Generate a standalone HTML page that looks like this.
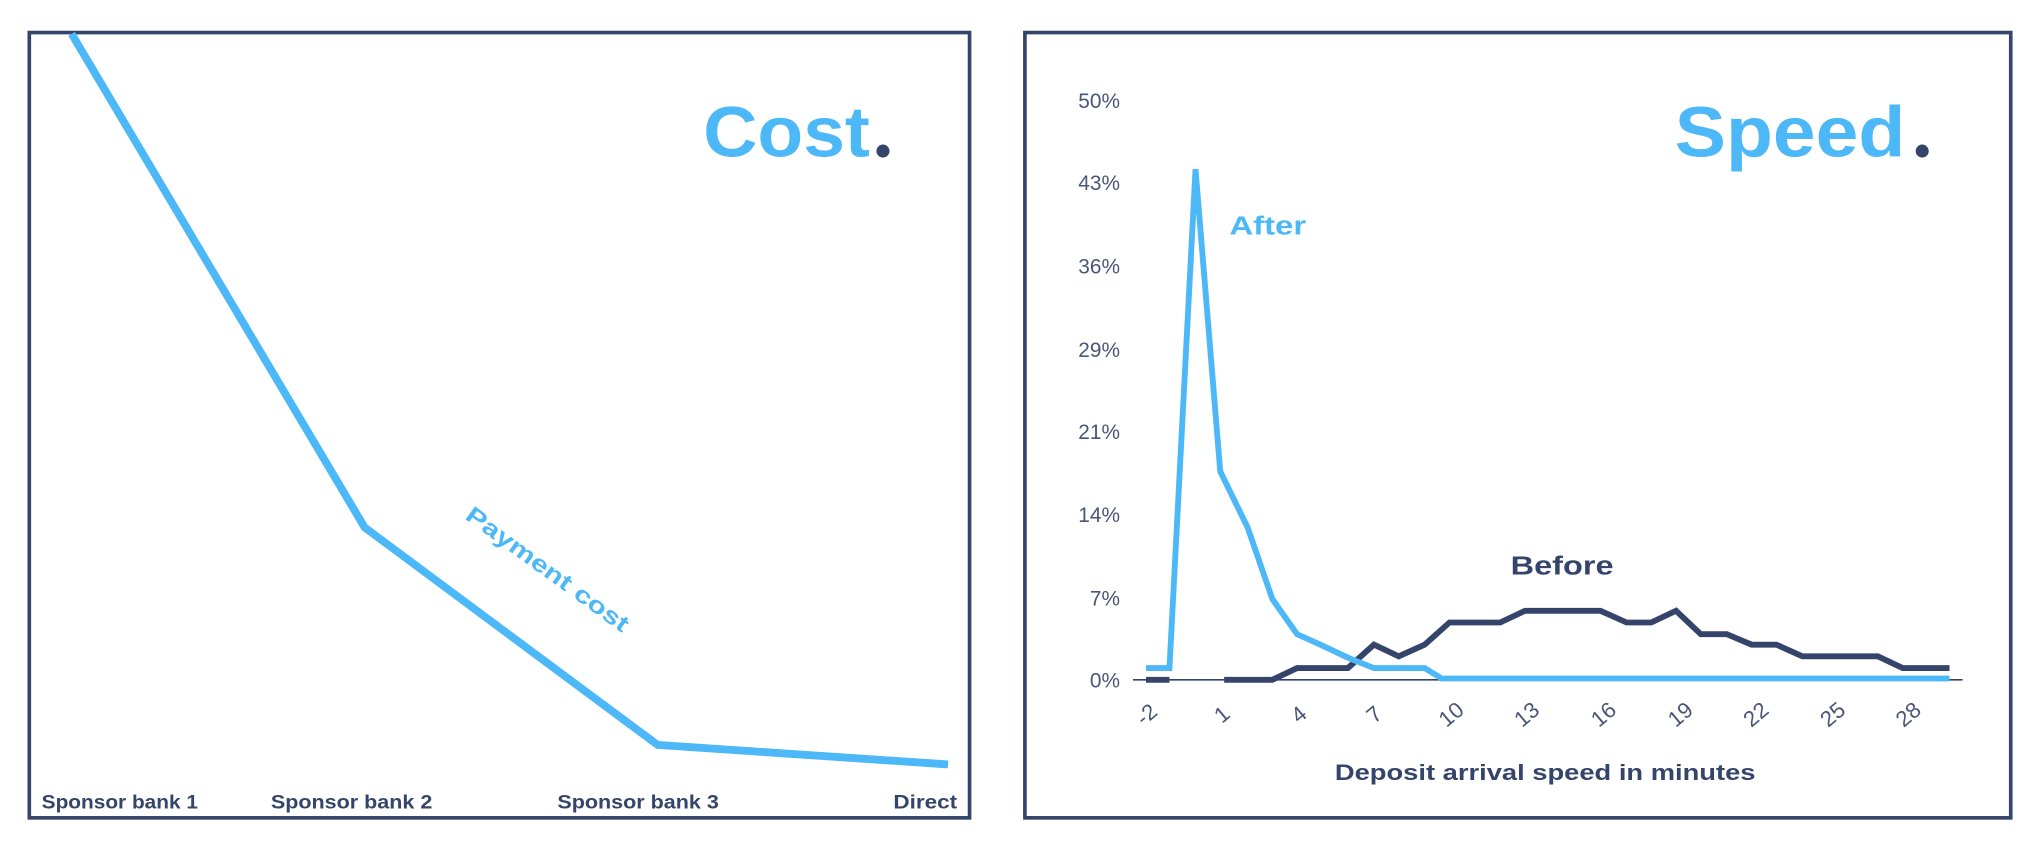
<!DOCTYPE html>
<html><head><style>html,body{margin:0;padding:0;background:#fff}svg{display:block}</style></head>
<body>
<svg width="2042" height="856" viewBox="0 0 1568 657.3" preserveAspectRatio="none" xmlns="http://www.w3.org/2000/svg" font-family="Liberation Sans, sans-serif">
<rect x="22.5" y="25" width="722" height="603" fill="none" stroke="#34446a" stroke-width="2.8"/>
<rect x="787" y="25" width="757" height="603" fill="none" stroke="#34446a" stroke-width="2.8"/>
<polyline points="55,26 280,405 505,572 728,587" fill="none" stroke="#4db8f8" stroke-width="6"/>
<g font-weight="bold" font-size="15" fill="#34446a">
<text x="32" y="621" textLength="120" lengthAdjust="spacingAndGlyphs">Sponsor bank 1</text>
<text x="208" y="621" textLength="124" lengthAdjust="spacingAndGlyphs">Sponsor bank 2</text>
<text x="428" y="621" textLength="124" lengthAdjust="spacingAndGlyphs">Sponsor bank 3</text>
<text x="686" y="621" textLength="49" lengthAdjust="spacingAndGlyphs">Direct</text>
</g>
<text x="540" y="120" font-size="55" font-weight="bold" fill="#4db8f8" textLength="128" lengthAdjust="spacingAndGlyphs">Cost</text>
<circle cx="678" cy="116" r="5" fill="#34446a"/>
<text transform="translate(417,442) rotate(36)" text-anchor="middle" font-size="18" font-weight="bold" fill="#4db8f8" textLength="150" lengthAdjust="spacingAndGlyphs">Payment cost</text>
<text x="1286" y="120" font-size="55" font-weight="bold" fill="#4db8f8" textLength="177" lengthAdjust="spacingAndGlyphs">Speed</text>
<circle cx="1476" cy="116" r="5" fill="#34446a"/>
<g font-size="16" fill="#4a5578" text-anchor="end">
<text x="860" y="83">50%</text><text x="860" y="146">43%</text><text x="860" y="210">36%</text><text x="860" y="274">29%</text><text x="860" y="337">21%</text><text x="860" y="401">14%</text><text x="860" y="465">7%</text><text x="860" y="528">0%</text>
</g>
<line x1="870" y1="522" x2="1507" y2="522" stroke="#34446a" stroke-width="1.2"/>
<g font-size="17" fill="#4a5578" text-anchor="middle">
<text transform="translate(884,553) rotate(-40)">-2</text>
<text transform="translate(942,553) rotate(-40)">1</text>
<text transform="translate(1001,553) rotate(-40)">4</text>
<text transform="translate(1059,553) rotate(-40)">7</text>
<text transform="translate(1118,553) rotate(-40)">10</text>
<text transform="translate(1176,553) rotate(-40)">13</text>
<text transform="translate(1235,553) rotate(-40)">16</text>
<text transform="translate(1294,553) rotate(-40)">19</text>
<text transform="translate(1352,553) rotate(-40)">22</text>
<text transform="translate(1411,553) rotate(-40)">25</text>
<text transform="translate(1469,553) rotate(-40)">28</text>
</g>
<text x="1025" y="599" font-size="17" font-weight="bold" fill="#34446a" textLength="323" lengthAdjust="spacingAndGlyphs">Deposit arrival speed in minutes</text>
<polyline points="880,522 898,522" stroke="#34446a" stroke-width="4.5" fill="none"/>
<polyline points="940,522 977,522 996,513 1035,513 1055,495 1074,504 1094,495 1113,478 1152,478 1171,469 1229,469 1249,478 1268,478 1287,469 1306,487 1326,487 1345,495 1364,495 1384,504 1442,504 1461,513 1497,513" fill="none" stroke="#34446a" stroke-width="4.5"/>
<polyline points="880,513 898,513 918,130 937,362 958,405 977,460 996,487 1016,496 1035,505 1055,513 1074,513 1094,513 1107,521 1497,521" fill="none" stroke="#4db8f8" stroke-width="4.5"/>
<text x="944" y="180" font-size="20" font-weight="bold" fill="#4db8f8" textLength="59" lengthAdjust="spacingAndGlyphs">After</text>
<text x="1160" y="441" font-size="20" font-weight="bold" fill="#34446a" textLength="79" lengthAdjust="spacingAndGlyphs">Before</text>
</svg>
</body></html>
